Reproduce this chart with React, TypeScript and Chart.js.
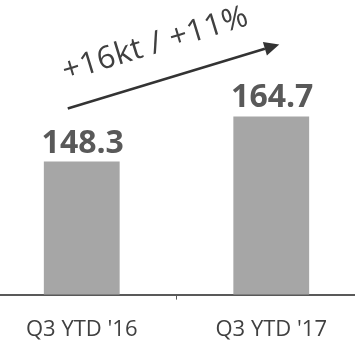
import React, { useEffect, useRef } from "react";
import { Chart, registerables } from "chart.js";

Chart.register(...registerables);

const categories = ["Q3 YTD '16", "Q3 YTD '17"];
const values = [148.3, 164.7];
const changeLabel = "+16kt / +11%";

const FONT = "'Open Sans', 'Noto Sans', sans-serif";

const labelPlugin = {
  id: "valueLabels",
  afterDatasetsDraw(chart: any) {
    const ctx = chart.ctx;
    const meta = chart.getDatasetMeta(0);
    ctx.save();
    ctx.fillStyle = "#595959";
    ctx.font = `bold 32px ${FONT}`;
    ctx.textAlign = "center";
    ctx.textBaseline = "alphabetic";
    meta.data.forEach((bar: any, i: number) => {
      ctx.fillText(values[i].toFixed(1), bar.x + 1, bar.y - 9);
    });
    ctx.restore();
  },
};

const arrowPlugin = {
  id: "arrowNote",
  afterDraw(chart: any) {
    const ctx = chart.ctx;
    const meta = chart.getDatasetMeta(0);
    const b1 = meta.data[0];
    const b2 = meta.data[1];
    if (!b1 || !b2) return;
    const x0 = b1.x - 14;
    const y0 = b2.y - 8;
    const x1 = b2.x + 8;
    const y1 = b2.y - 72;
    const ang = Math.atan2(y1 - y0, x1 - x0);
    ctx.save();
    ctx.strokeStyle = "#333333";
    ctx.fillStyle = "#333333";
    ctx.lineWidth = 2.5;
    const headLen = 15;
    const headW = 7;
    const bx = x1 - headLen * Math.cos(ang);
    const by = y1 - headLen * Math.sin(ang);
    ctx.beginPath();
    ctx.moveTo(x0, y0);
    ctx.lineTo(bx, by);
    ctx.stroke();
    ctx.beginPath();
    ctx.moveTo(x1, y1);
    ctx.lineTo(bx + headW * Math.sin(ang), by - headW * Math.cos(ang));
    ctx.lineTo(bx - headW * Math.sin(ang), by + headW * Math.cos(ang));
    ctx.closePath();
    ctx.fill();

    ctx.translate(b1.x - 16, 81);
    ctx.rotate((-17 * Math.PI) / 180);
    ctx.fillStyle = "#404040";
    ctx.font = `31px ${FONT}`;
    (ctx as any).letterSpacing = "0.5px";
    ctx.textAlign = "left";
    ctx.textBaseline = "alphabetic";
    ctx.fillText(changeLabel, 0, 0);
    ctx.restore();
  },
};

export default function App() {
  const ref = useRef<HTMLCanvasElement | null>(null);
  useEffect(() => {
    if (!ref.current) return;
    const chart = new Chart(ref.current, {
      type: "bar",
      data: {
        labels: categories,
        datasets: [
          {
            data: values,
            backgroundColor: "#A6A6A6",
            borderWidth: 0,
            barPercentage: 1,
            categoryPercentage: 0.4,
          },
        ],
      },
      options: {
        responsive: false,
        animation: false,
        layout: { padding: 0 },
        plugins: {
          legend: { display: false },
          tooltip: { enabled: false },
          title: { display: false },
        },
        scales: {
          x: {
            border: { display: true, color: "#595959", width: 2 },
            grid: {
              display: true,
              drawOnChartArea: false,
              drawTicks: true,
              tickLength: 5,
              color: "#595959",
              lineWidth: 1,
            },
            ticks: {
              color: "#404040",
              padding: 17,
              font: { family: FONT, size: 22 },
            },
          },
          y: {
            display: false,
            min: 100,
            max: 207,
          },
        },
      },
      plugins: [labelPlugin, arrowPlugin],
    });
    return () => chart.destroy();
  }, []);
  return (
    <div
      style={{
        position: "fixed",
        left: 0,
        top: 0,
        width: 355,
        height: 340,
        overflow: "hidden",
        background: "#fff",
      }}
    >
      <canvas
        ref={ref}
        width={379}
        height={360}
        style={{ position: "absolute", left: -13, top: 0 }}
      />
    </div>
  );
}
